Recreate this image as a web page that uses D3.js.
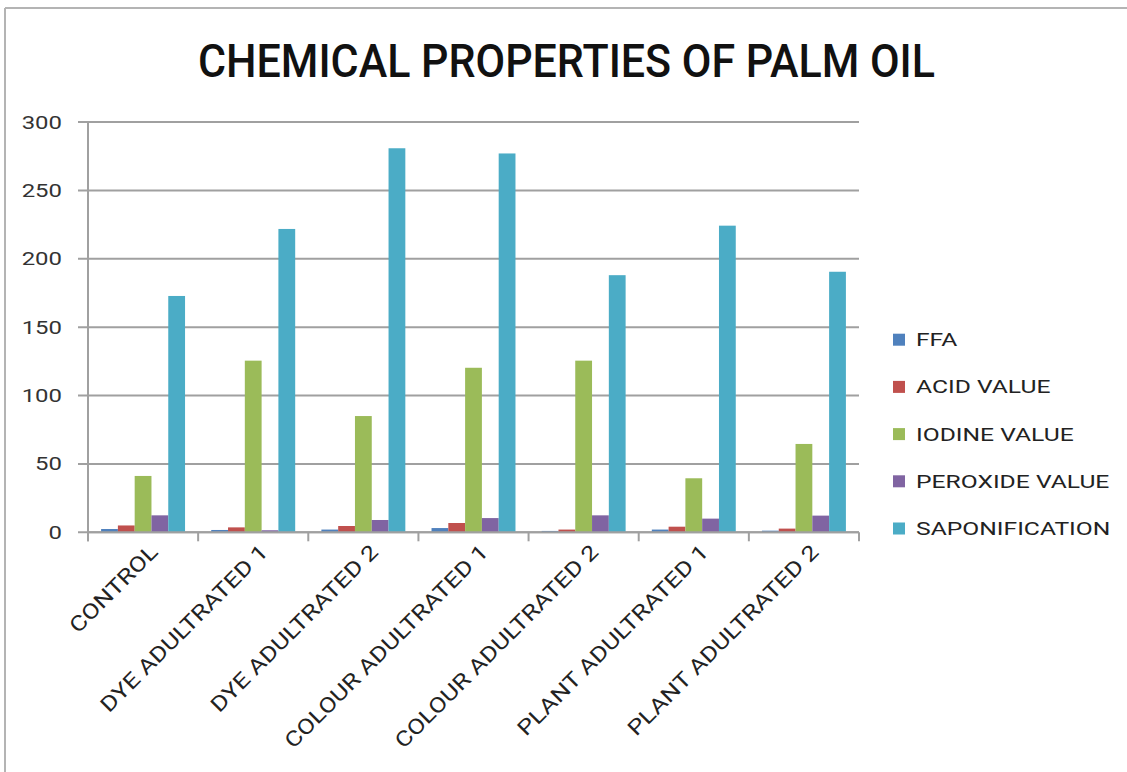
<!DOCTYPE html>
<html><head><meta charset="utf-8">
<script src="https://cdn.jsdelivr.net/npm/d3@7"></script>
<style>html,body{margin:0;padding:0;background:#fff;}svg{display:block;}</style>
</head><body>
<svg id="c" width="1127" height="772"></svg>
<script>
const categories = ["CONTROL","DYE ADULTRATED 1","DYE ADULTRATED 2","COLOUR ADULTRATED 1","COLOUR ADULTRATED 2","PLANT ADULTRATED 1","PLANT ADULTRATED 2"];
const seriesNames = ["FFA","ACID VALUE","IODINE VALUE","PEROXIDE VALUE","SAPONIFICATION"];
const ffa = [2.4, 1.7, 2.0, 3.1, 1.0, 2.0, 1.2];
const acidValue = [5.0, 3.6, 4.6, 6.8, 2.0, 4.1, 2.7];
const iodineValue = [41.2, 125.5, 85.0, 120.3, 125.5, 39.5, 64.6];
const peroxideValue = [12.4, 1.5, 9.0, 10.4, 12.4, 10.0, 12.2];
const saponification = [172.8, 221.8, 280.8, 277.0, 188.0, 224.2, 190.5];
const yTicks = [0, 50, 100, 150, 200, 250, 300];
const colors = ["#4F81BD","#C0504D","#9BBB59","#8064A2","#4BACC6"];
const title = "CHEMICAL PROPERTIES OF PALM OIL";

const seriesValues = [ffa, acidValue, iodineValue, peroxideValue, saponification];
const svg = d3.select("#c");
const FONT = "Roboto, 'Noto Sans', sans-serif";

// frame
svg.append("line").attr("x1",5).attr("x2",1127).attr("y1",8).attr("y2",8).attr("stroke","#b4b4b4").attr("stroke-width",2);
svg.append("line").attr("x1",5).attr("x2",5).attr("y1",8).attr("y2",772).attr("stroke","#b4b4b4").attr("stroke-width",2);

// title
svg.append("text").attr("x",198).attr("y",77).attr("font-family",FONT).attr("font-size",46).attr("font-weight",500)
  .attr("fill","#111").attr("textLength",737).attr("lengthAdjust","spacingAndGlyphs").text(title);

const pLeft = 88, pRight = 859, pTop = 122, pBottom = 532.3;
const x = d3.scaleBand().domain(categories).range([pLeft, pRight]).paddingInner(0).paddingOuter(0);
const xs = d3.scaleBand().domain(seriesNames).range([0, x.bandwidth()]).paddingInner(0).paddingOuter(0.78);
const y = d3.scaleLinear().domain([0, 300]).range([pBottom, pTop]);

const grid = "#a0a0a0";
// gridlines + y ticks
svg.append("g").selectAll("line").data(yTicks).join("line")
  .attr("x1", pLeft - 10).attr("x2", pRight).attr("y1", d => y(d)).attr("y2", d => y(d))
  .attr("stroke", grid).attr("stroke-width", 2);
// y axis
svg.append("line").attr("x1",pLeft).attr("x2",pLeft).attr("y1",pTop).attr("y2",pBottom+9).attr("stroke",grid).attr("stroke-width",2);
// y labels
svg.append("g").selectAll("text").data(yTicks).join("text")
  .attr("transform", d => `translate(${pLeft-26},${y(d)+6.5}) scale(1.33,1)`)
  .attr("text-anchor","end").attr("font-family",FONT).attr("font-size",18).attr("fill","#333")
  .text(d => d);
// category ticks
const catEdges = categories.map(c => x(c)).concat([pRight]);
svg.append("g").selectAll("line").data(catEdges).join("line")
  .attr("x1", d => d).attr("x2", d => d).attr("y1", pBottom).attr("y2", pBottom + 9)
  .attr("stroke", grid).attr("stroke-width", 2);

// bars
const data = [];
categories.forEach((c, i) => seriesNames.forEach((s, j) => data.push({c, s, v: seriesValues[j][i], j})));
svg.append("g").selectAll("rect").data(data).join("rect")
  .attr("x", d => x(d.c) + xs(d.s)).attr("width", xs.bandwidth())
  .attr("y", d => y(d.v)).attr("height", d => pBottom - y(d.v))
  .attr("fill", d => colors[d.j]);

// x axis line
svg.append("line").attr("x1",pLeft).attr("x2",pRight).attr("y1",pBottom).attr("y2",pBottom).attr("stroke",grid).attr("stroke-width",2);

// x labels
svg.append("g").selectAll("text").data(categories).join("text")
  .attr("transform", c => `translate(${x(c) + x.bandwidth()/2 + 16},${pBottom + 21}) rotate(-45) scale(1.22,1)`)
  .attr("text-anchor","end").attr("font-family",FONT).attr("font-size",21).attr("fill","#222")
  .text(c => c);

// legend
const lg = svg.append("g").selectAll("g").data(seriesNames).join("g")
  .attr("transform", (d, i) => `translate(893,${339.7 + i * 47.2})`);
lg.append("rect").attr("x",0).attr("y",-6).attr("width",12).attr("height",12).attr("fill",(d,i)=>colors[i]);
lg.append("text").attr("transform",`translate(23,6.5) scale(1.37,1)`).attr("font-family",FONT).attr("font-size",18).attr("fill","#222").text(d=>d);
</script>
</body></html>
